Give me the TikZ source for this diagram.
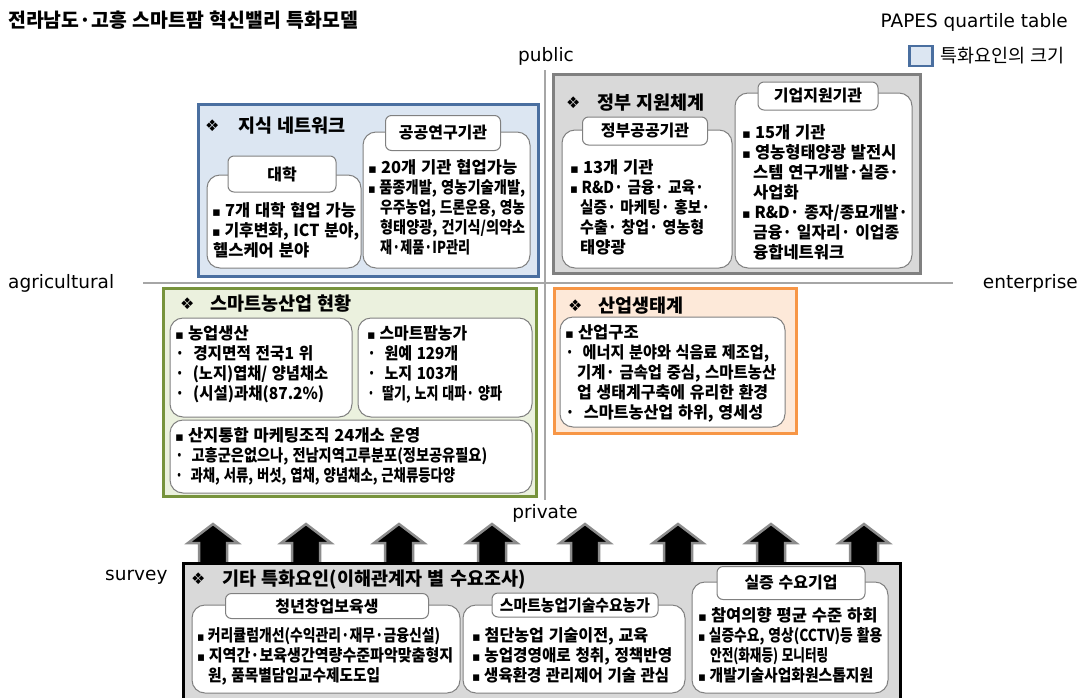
\documentclass[tikz,border=0pt]{standalone}
\usepackage{fontspec}
\usepackage{graphicx}
\newfontfamily\krf{Noto Sans CJK KR}[WordSpace=1.3]
\newfontfamily\djv{DejaVu Sans}
\definecolor{bluebd}{HTML}{4A6FA0}
\definecolor{bluefill}{HTML}{DCE6F2}
\definecolor{graybd}{HTML}{808080}
\definecolor{grayfill}{HTML}{D9D9D9}
\definecolor{greenbd}{HTML}{77933C}
\definecolor{greenfill}{HTML}{EBF1DE}
\definecolor{orangebd}{HTML}{F79646}
\definecolor{orangefill}{HTML}{FDE9D9}
\definecolor{inbd}{HTML}{808080}
\definecolor{axgray}{HTML}{A6A6A6}
\definecolor{arrgray}{HTML}{8C8C8C}
\newsavebox\ftbox
% fit text to at most #1 pt wide (horizontal squeeze only)
\newcommand\fit[2]{\sbox\ftbox{#2}\ifdim\wd\ftbox>#1pt\relax\resizebox{#1pt}{\height}{\usebox\ftbox}\else\usebox\ftbox\fi}
\newcommand\bu{{\djv\fontsize{13}{14}\selectfont ▪}\hspace{4pt}}
\newcommand\dt{·\hspace{9pt}}
\newcommand\dia{{\djv\fontsize{16}{16}\selectfont ❖}}
\tikzset{
  tx/.style={anchor=base west, inner sep=0pt, font=\krf\bfseries\fontsize{16.5}{18}\selectfont},
  ttl/.style={anchor=base west, inner sep=0pt, font=\krf\bfseries\fontsize{18.5}{20}\selectfont},
  dmark/.style={anchor=base west, inner sep=0pt},
  lbl/.style={draw=inbd, fill=white, rounded corners=6pt, line width=1pt, inner sep=0pt, font=\krf\bfseries\fontsize{16}{18}\selectfont},
  inbox/.style={draw=inbd, fill=white, rounded corners=13pt, line width=1pt},
  axisline/.style={draw=axgray, line width=2.5pt},
  axl/.style={inner sep=0pt, font=\djv\fontsize{18.5}{20}\selectfont},
  uparrow/.style={fill=black, draw=arrgray, line width=2.5pt, line join=miter},
}
\begin{document}
\begin{tikzpicture}[x=1pt,y=-1pt]
\useasboundingbox (0,0) rectangle (1082,697);
\clip (0,0) rectangle (1082,697);
\fill[white] (0,0) rectangle (1082,697);

% header
\node[ttl, font=\krf\bfseries\fontsize{19.5}{21}\selectfont] (title) at (8,27) {\fit{350}{전라남도·고흥 스마트팜 혁신밸리 특화모델}};
\node[axl, anchor=base east] (papes) at (1068,27) {PAPES quartile table};
\node[draw=bluebd, fill=bluefill, line width=2.5pt, minimum width=23pt, minimum height=20pt, inner sep=0pt] (legsq) at (921,56) {};
\node[anchor=base west, inner sep=0pt, font=\krf\fontsize{18.5}{20}\selectfont] (legtx) at (940,62) {\fit{130}{특화요인의 크기}};

% axes
\coordinate (vt) at (545,70);
\coordinate (vb) at (545,500);
\coordinate (hl) at (143,283);
\coordinate (hr) at (953,283);
\draw[axisline] (vt) -- (vb);
\draw[axisline] (hl) -- (hr);
\node[axl, anchor=base] (public) at (546,61) {public};
\node[axl, anchor=base] (private) at (545,518) {private};
\node[axl, anchor=base west] (agri) at (8,288) {agricultural};
\node[axl, anchor=base east] (ent) at (1078,288) {enterprise};
\node[axl, anchor=base west] (survey) at (105,580) {survey};

% ---------- Box 1 : knowledge network
\draw[draw=bluebd, fill=bluefill, line width=3pt] (198.5,104.5) rectangle (538.5,276.5);
\node[dmark] (d1) at (205,131) {\dia};
\node[ttl] (t1) at (238,132) {지식 네트워크};
\draw[inbox] (207,175) rectangle (361,268);
\node[lbl, minimum width=108pt, minimum height=36pt] (lab1) at (282,174) {대학};
\node[tx] (u1) at (212,216) {\fit{147}{\bu 7개 대학 협업 가능}};
\node[tx] (u2) at (212,236) {\fit{147}{\bu 기후변화, ICT 분야,}};
\node[tx] (u3) at (213,256) {\fit{110}{헬스케어 분야}};
\draw[inbox] (363,132) rectangle (530,268);
\node[lbl, minimum width=115pt, minimum height=35pt] (lab2) at (443,133) {공공연구기관};
\node[tx] (p1) at (368,173) {\fit{152}{\bu 20개 기관 협업가능}};
\node[tx] (p2) at (368,193) {\fit{157}{\bu 품종개발, 영농기술개발,}};
\node[tx] (p3) at (380,213) {\fit{145}{우주농업, 드론운용, 영농}};
\node[tx] (p4) at (380,233) {\fit{145}{형태양광, 건기식/의약소}};
\node[tx] (p5) at (380,253) {\fit{90}{재·제품·IP관리}};

% ---------- Box 2 : government support
\draw[draw=graybd, fill=grayfill, line width=3pt] (553.5,74.5) rectangle (920.5,273.5);
\node[dmark] (d2) at (566,108) {\dia};
\node[ttl] (t2) at (597,109) {정부 지원체계};
\draw[inbox] (562,130) rectangle (732,268);
\node[lbl, minimum width=125pt, minimum height=28pt] (lab3) at (645,131) {정부공공기관};
\node[tx] (g1) at (570,173) {\fit{86}{\bu 13개 기관}};
\node[tx] (g2) at (570,193) {\fit{134}{\bu R\&D· 금융· 교육·}};
\node[tx] (g3) at (580,213) {\fit{130}{실증· 마케팅· 홍보·}};
\node[tx] (g4) at (580,233) {\fit{124}{수출· 창업· 영농형}};
\node[tx] (g5) at (580,253) {\fit{50}{태양광}};
\draw[inbox] (735,93) rectangle (912,268);
\node[lbl, minimum width=120pt, minimum height=28pt] (lab4) at (818,96) {기업지원기관};
\node[tx] (e1) at (742,138) {\fit{88}{\bu 15개 기관}};
\node[tx] (e2) at (742,158) {\fit{166}{\bu 영농형태양광 발전시}};
\node[tx] (e3) at (753,178) {\fit{146}{스템 연구개발·실증·}};
\node[tx] (e4) at (753,198) {\fit{50}{사업화}};
\node[tx] (e5) at (742,218) {\fit{166}{\bu R\&D· 종자/종묘개발·}};
\node[tx] (e6) at (753,238) {\fit{146}{금융· 일자리· 이업종}};
\node[tx] (e7) at (753,258) {\fit{95}{융합네트워크}};

% ---------- Box 3 : smart agri status
\draw[draw=greenbd, fill=greenfill, line width=3pt] (163.5,288.5) rectangle (536.5,496.5);
\node[dmark] (d3) at (180,309) {\dia};
\node[ttl] (t3) at (210,310) {스마트농산업 현황};
\draw[inbox] (170,318) rectangle (352,417);
\node[tx] (a1) at (175,339) {\fit{74}{\bu 농업생산}};
\node[tx] (a2) at (175,359) {\fit{138}{\dt 경지면적 전국1 위}};
\node[tx] (a3) at (175,379) {\fit{153}{\dt (노지)엽채/ 양념채소}};
\node[tx] (a4) at (175,399) {\fit{149}{\dt (시설)과채(87.2\%)}};
\draw[inbox] (358,318) rectangle (532,417);
\node[tx] (b1) at (367,339) {\fit{100}{\bu 스마트팜농가}};
\node[tx] (b2) at (367,359) {\fit{91}{\dt 원예 129개}};
\node[tx] (b3) at (367,379) {\fit{91}{\dt 노지 103개}};
\node[tx] (b4) at (367,399) {\fit{135}{\dt 딸기, 노지 대파· 양파}};
\draw[inbox] (170,420) rectangle (532,493);
\node[tx] (c1) at (175,441) {\fit{258}{\bu 산지통합 마케팅조직 24개소 운영}};
\node[tx] (c2) at (175,461) {\fit{312}{\dt 고흥군은없으나, 전남지역고루분포(정보공유필요)}};
\node[tx] (c3) at (175,481) {\fit{280}{\dt 과채, 서류, 버섯, 엽채, 양념채소, 근채류등다양}};

% ---------- Box 4 : industrial ecosystem
\draw[draw=orangebd, fill=orangefill, line width=3pt] (554.5,288.5) rectangle (796.5,433.5);
\node[dmark] (d4) at (568,311) {\dia};
\node[ttl] (t4) at (598,312) {산업생태계};
\draw[inbox] (560,317) rectangle (785,427);
\node[tx] (i1) at (565,338) {\fit{74}{\bu 산업구조}};
\node[tx] (i2) at (565,358) {\fit{204}{\dt 에너지 분야와 식음료 제조업,}};
\node[tx] (i3) at (577,378) {\fit{199}{기계· 금속업 중심,  스마트농산}};
\node[tx] (i4) at (577,398) {\fit{191}{업 생태계구축에 유리한 환경}};
\node[tx] (i5) at (565,418) {\fit{198}{\dt 스마트농산업 하위, 영세성}};

% ---------- arrows
\foreach \k in {0,...,7}{
  \pgfmathsetmacro{\cx}{213+93*\k}
  \draw[uparrow] (\cx-14,563) -- (\cx-14,543) -- (\cx-25,543) -- (\cx,524) -- (\cx+25,543) -- (\cx+14,543) -- (\cx+14,563);
}

% ---------- Bottom box : survey
\draw[draw=black, fill=grayfill, line width=3pt] (183.5,563.5) rectangle (900.5,715);
\node[dmark] (d5) at (191,584) {\dia};
\node[ttl] (t5) at (222,585) {\fit{316}{기타 특화요인(이해관계자 별 수요조사)}};
\draw[inbox] (192,605) rectangle (460,693);
\node[lbl, minimum width=203pt, minimum height=25pt] (lab5) at (327,606) {\fit{104}{청년창업보육생}};
\node[tx] (y1) at (197,641) {\fit{243}{\bu 커리큘럼개선(수익관리·재무·금융신설)}};
\node[tx] (y2) at (197,661) {\fit{256}{\bu 지역간·보육생간역량수준파악맞춤형지}};
\node[tx] (y3) at (208,681) {\fit{172}{원, 품목별담임교수제도도입}};
\draw[inbox] (463,605) rectangle (685,693);
\node[lbl, minimum width=166pt, minimum height=24pt] (lab6) at (575,605) {\fit{150}{스마트농업기술수요농가}};
\node[tx] (s1) at (472,641) {\fit{176}{\bu 첨단농업 기술이전, 교육}};
\node[tx] (s2) at (472,661) {\fit{200}{\bu 농업경영애로 청취, 정책반영}};
\node[tx] (s3) at (472,681) {\fit{197}{\bu 생육환경 관리제어 기술 관심}};
\draw[inbox] (692,582) rectangle (888,693);
\node[lbl, minimum width=148pt, minimum height=33pt] (lab7) at (791,583) {\fit{93}{실증 수요기업}};
\node[tx] (r1) at (698,621) {\fit{184}{\bu 참여의향 평균 수준 하회}};
\node[tx] (r2) at (698,641) {\fit{184}{\bu 실증수요, 영상(CCTV)등 활용}};
\node[tx] (r3) at (710,661) {\fit{118}{안전(화재등) 모니터링}};
\node[tx] (r4) at (698,681) {\fit{175}{\bu 개발기술사업화원스톱지원}};
\end{tikzpicture}
\end{document}
